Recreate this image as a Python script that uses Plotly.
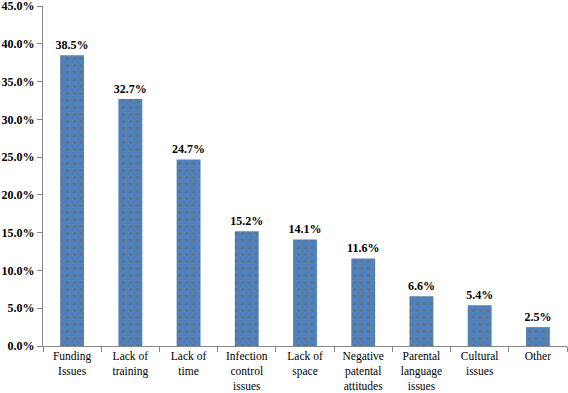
import plotly.graph_objects as go

categories = ["Funding<br>Issues", "Lack of<br>training", "Lack of<br>time", "Infection<br>control<br>issues",
              "Lack of<br>space", "Negative<br>patental<br>attitudes", "Parental<br>language<br>issues",
              "Cultural<br>issues", "Other"]
values = [38.5, 32.7, 24.7, 15.2, 14.1, 11.6, 6.6, 5.4, 2.5]
y_ticks = [0, 5, 10, 15, 20, 25, 30, 35, 40, 45]
y_tick_labels = [f"{v:.1f}%" for v in y_ticks]

FONT = "'Liberation Serif', 'Times New Roman', Times, serif"

fig = go.Figure(go.Bar(
    x=categories, y=values,
    marker=dict(color="#4F81BD", line=dict(width=0),
                pattern=dict(shape=".", fgcolor="#8B5A2B", bgcolor="#4F81BD", size=7, solidity=0.14)),
    texttemplate="<b>%{y:.1f}%</b>", textposition="outside",
    textfont=dict(family=FONT, size=12, color="black"),
    constraintext="none",
    cliponaxis=False,
))

fig.update_layout(
    width=568, height=393,
    margin=dict(l=43, r=1, t=6, b=47),
    paper_bgcolor="white", plot_bgcolor="white",
    bargap=0.59, showlegend=False,
    font=dict(family=FONT, size=12, color="black"),
)
fig.update_xaxes(
    showline=True, linecolor="#868686", linewidth=1,
    ticks="outside", tickson="boundaries", ticklen=5, tickcolor="#868686",
    tickfont=dict(family=FONT, size=11.5, color="black"),
    showgrid=False, automargin=False, ticklabelstandoff=-1,
)
fig.update_yaxes(
    range=[0, 45.01], tickvals=y_ticks, ticktext=[f"<b>{t}</b>" for t in y_tick_labels],
    showline=True, linecolor="#868686", linewidth=1,
    ticks="outside", ticklen=5, tickcolor="#868686",
    tickfont=dict(family=FONT, size=12, color="black"),
    showgrid=False, zeroline=False, automargin=False, ticklabeloverflow="allow",
)

fig.write_html("out.html", config={"displayModeBar": False},
               post_script="document.body.style.margin='0';document.body.style.padding='0';")
